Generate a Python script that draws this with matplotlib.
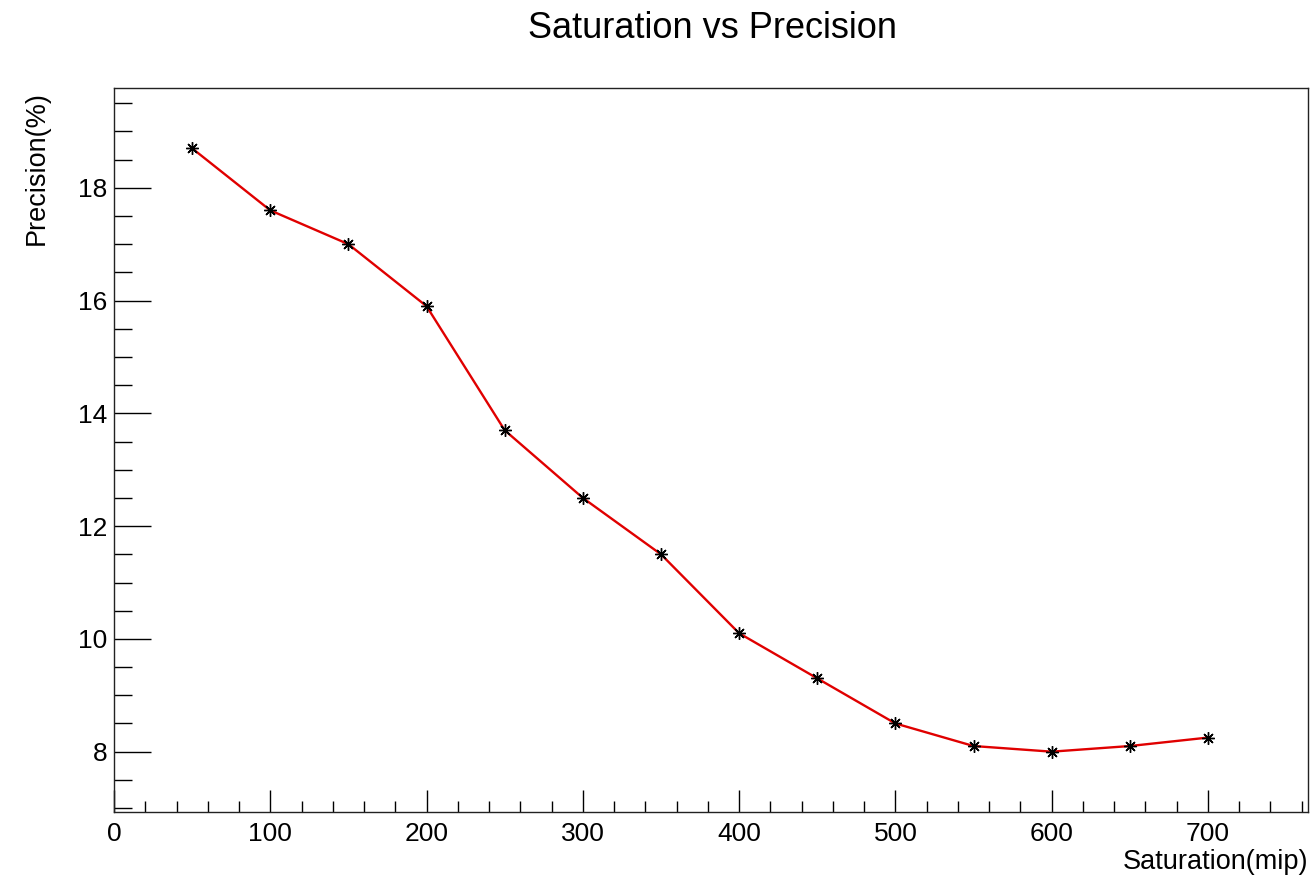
import matplotlib
matplotlib.use("Agg")
import matplotlib.pyplot as plt
from matplotlib.ticker import MultipleLocator

saturation = [50, 100, 150, 200, 250, 300, 350, 400, 450, 500, 550, 600, 650, 700]
precision = [18.7, 17.6, 17.0, 15.9, 13.7, 12.5, 11.5, 10.1, 9.3, 8.5, 8.1, 8.0, 8.1, 8.25]

plt.rcParams['font.family'] = ['Liberation Sans', 'DejaVu Sans']

fig = plt.figure(figsize=(13.12, 8.77), dpi=100)
ax = fig.add_axes([114/1312, 65/877, (1308-114)/1312, (812-88)/877])

ax.plot(saturation, precision, color='#e00000', lw=1.7, zorder=2)
ax.plot(saturation, precision, linestyle='none', marker=(8, 2, 0), color='black',
        markersize=9, markeredgewidth=1.0, zorder=3)

ax.set_xlim(0, 764)
ax.set_ylim(6.93, 19.77)

ax.xaxis.set_major_locator(MultipleLocator(100))
ax.xaxis.set_minor_locator(MultipleLocator(20))
ax.yaxis.set_major_locator(MultipleLocator(2))
ax.yaxis.set_minor_locator(MultipleLocator(0.5))

ax.tick_params(axis='both', which='both', direction='in', top=False, right=False,
               labelsize=19, width=1, color='black')
ax.tick_params(axis='x', which='major', length=16, pad=7)
ax.tick_params(axis='x', which='minor', length=8)
ax.tick_params(axis='y', which='major', length=26.5, pad=5)
ax.tick_params(axis='y', which='minor', length=13)

for s in ax.spines.values():
    s.set_linewidth(1.0)
    s.set_color('#222222')

fig.text(713/1312, 1 - 28/877, 'Saturation vs Precision', ha='center', va='center', fontsize=26)
fig.text(1308/1312, 1 - 862/877, 'Saturation(mip)', ha='right', va='center', fontsize=19.5)
fig.text(37/1312, 1 - 168/877, 'Precision(%)', ha='center', va='center', rotation=90, fontsize=19.5)

fig.savefig('out.png', dpi=100)
